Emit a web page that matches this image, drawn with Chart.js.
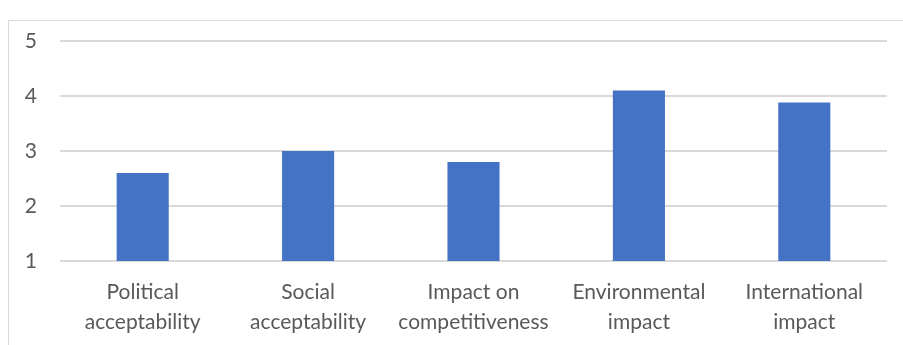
<!DOCTYPE html>
<html>
<head>
<meta charset="utf-8">
<script src="https://cdn.jsdelivr.net/npm/chart.js@4"></script>
<style>
  html, body { margin: 0; padding: 0; background: #fff; }
  #wrap { position: relative; width: 903px; height: 345px; overflow: hidden; }
  #frame { position: absolute; left: 8px; top: 20px; width: 960px; height: 400px; border: 1.5px solid #d9d9d9; }
  #myChart { position: absolute; left: 0; top: 0; }
</style>
</head>
<body>
<div id="wrap">
  <div id="frame"></div>
  <canvas id="myChart" width="903" height="345"></canvas>
</div>
<script>
const ctx = document.getElementById('myChart');

let categories = [
  ['Political', 'acceptability'],
  ['Social', 'acceptability'],
  ['Impact on', 'competitiveness'],
  ['Environmental', 'impact'],
  ['International', 'impact']
]
let scores = [2.6, 3.0, 2.8, 4.1, 3.88]
let yTicks = [1, 2, 3, 4, 5]

let chart = new Chart(ctx, {
  type: 'bar',
  data: {
    labels: categories,
    datasets: [{
      label: 'Score',
      data: scores,
      backgroundColor: '#4472c4',
      borderWidth: 0,
      barPercentage: 0.315,
      categoryPercentage: 1
    }]
  },
  options: {
    responsive: false,
    animation: false,
    layout: { padding: { top: 41, right: 16, left: 0, bottom: 0 } },
    plugins: {
      legend: { display: false },
      tooltip: { enabled: false }
    },
    scales: {
      x: {
        grid: { display: false, drawTicks: false },
        border: { display: false },
        ticks: {
          color: '#595959',
          padding: 16,
          maxRotation: 0,
          autoSkip: false,
          font: { family: 'Lato', size: 21, lineHeight: 1.43 }
        },
        afterFit: function (scale) { scale.height = 84 }
      },
      y: {
        min: yTicks[0],
        max: yTicks[yTicks.length - 1],
        afterBuildTicks: function (scale) {
          scale.ticks = yTicks.map(v => ({ value: v }))
        },
        grid: { color: '#d9d9d9', lineWidth: 2, drawTicks: false },
        border: { display: false },
        ticks: {
          color: '#595959',
          padding: 23,
          font: { family: 'Lato', size: 21 }
        },
        afterFit: function (scale) { scale.width = 60 }
      }
    }
  }
});
</script>
</body>
</html>
